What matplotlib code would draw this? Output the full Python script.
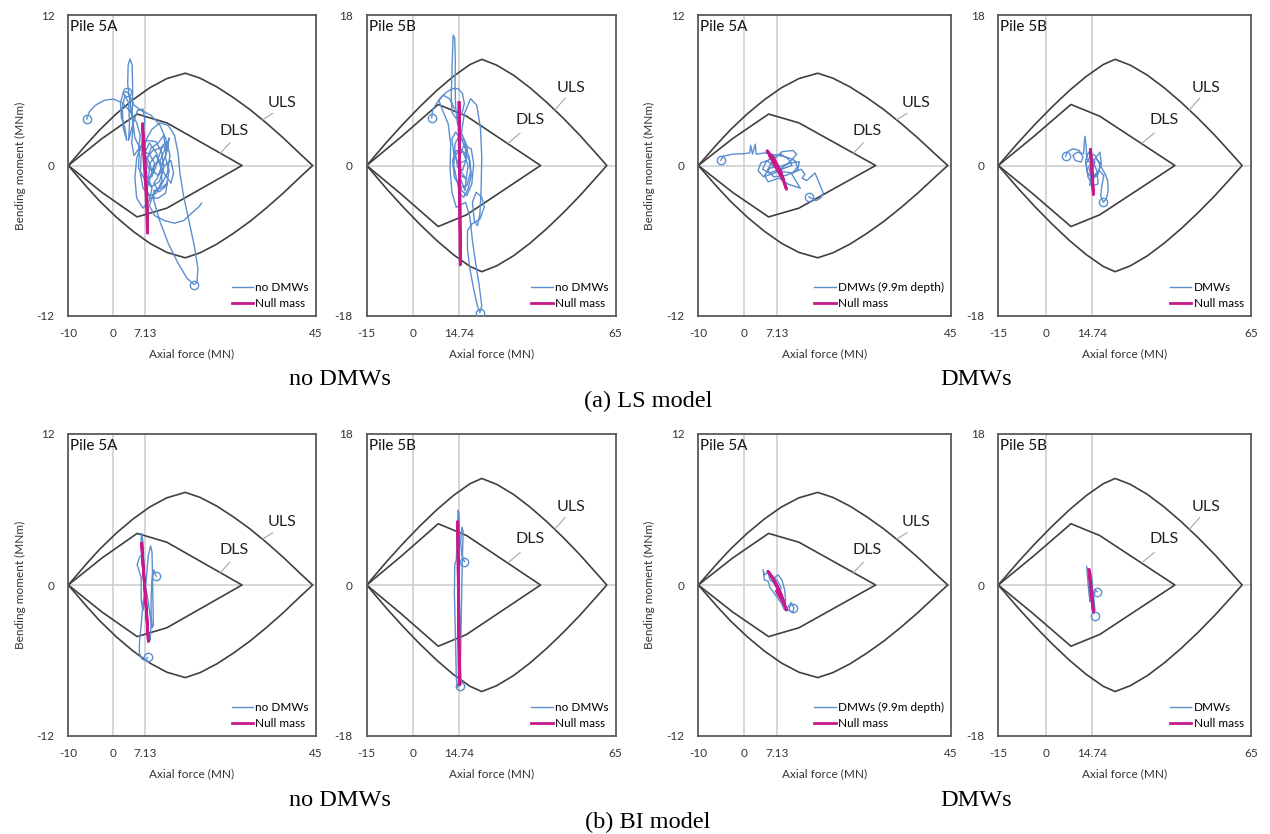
import numpy as np
import matplotlib
matplotlib.use("Agg")
import matplotlib.pyplot as plt

# ---- 包絡線 (上半分、下半分は対称) ----
uls_5a_x = [-10, -5.9, -3.0, 0.7, 4.4, 8.1, 11.9, 16.0, 19.3, 23.0, 26.7, 30.4, 34.1, 37.8, 41.5, 44.3]
uls_5a_y = [0, 1.71, 2.85, 4.13, 5.25, 6.2, 6.93, 7.36, 6.96, 6.27, 5.41, 4.45, 3.36, 2.19, 0.93, 0]
dls_5a_x = [-10, -2.5, 5.3, 11.9, 28.6]
dls_5a_y = [0, 2.15, 4.1, 3.4, 0]

uls_5b_x = [-15, -8.57, -3.2, 2.14, 7.5, 12.86, 18.2, 22.0, 26.8, 32.2, 37.5, 42.9, 48.2, 53.6, 58.9, 62.2]
uls_5b_y = [0, 2.8, 5.0, 7.05, 8.96, 10.66, 12.07, 12.7, 12.0, 10.8, 9.3, 7.55, 5.66, 3.59, 1.39, 0]
dls_5b_x = [-15, -4.0, 8.0, 17.1, 40.9]
dls_5b_y = [0, 3.4, 7.3, 5.9, 0]

# ---- (a) LS model, no DMWs, Pile 5A ----
ls_nd_5a_x = [-5.9, -5.3, -4, -2, 0, 2, 3.8, 5.2, 6.0, 5.6, 4.6, 4.1, 4.4, 3.8, 3.2, 3.3, 3.7, 4.2, 4.3, 4.2,
              4.8, 6.2, 8.0, 9.2, 8.6, 6.8, 5.6, 5.8, 7.5, 9.5, 10.8, 11.2, 10.2, 8.4, 7.0, 7.2, 8.8, 10.5,
              11.8, 11.6, 12.4, 11.8, 10.2, 9.0, 9.8, 11.0, 12.0, 12.4, 11.8, 11.0, 10.0, 9.0, 7.8, 7.0, 8.0,
              9.6, 10.6, 11.6, 12.8, 13.4, 12.8, 11.4, 10.0, 8.6, 7.6, 8.4, 10.0, 11.2, 11.6, 10.4, 9.0, 8.0,
              7.4, 8.4, 10.0, 11.6, 12.0, 10.6, 9.0,
              9.0, 10.4, 12.2, 14.4, 16.4, 18.0, 18.6, 18.8, 18.0, 16.8,
              15.6, 14.8, 14.4, 13.6, 12.2, 10.4, 8.6, 7.2, 6.2, 6.0, 6.6, 8.0, 9.6, 10.8, 10.6, 9.4, 8.2,
              7.8, 8.6, 8.0, 6.6, 5.2, 4.8, 5.2, 6.4, 7.0, 6.6, 5.4, 4.4, 3.4, 3.6, 3.4, 2.6, 2.0, 2.2, 3.0,
              2.6, 1.8, 1.6, 2.2, 3.0, 3.6, 4.6,
              6.2, 8.4, 10.4, 11.8, 12.6, 12.0, 10.6, 9.0, 8.0, 9.2, 11.4, 13.6, 15.6, 17.4, 19.0, 19.6]
ls_nd_5a_y = [3.7, 4.3, 4.8, 5.2, 5.3, 5.0, 4.3, 3.4, 2.4, 1.3, 0.8, 1.8, 3.2, 4.8, 6.5, 8.0, 8.5, 8.0, 6.0, 4.0,
              2.2, 1.2, 0.9, 0.2, -0.9, -1.0, -0.2, 1.2, 2.0, 1.9, 1.0, -0.2, -1.3, -1.7, -1.0, 0.5, 1.2, 1.4,
              1.9, 0.6, -0.4, -1.6, -2.1, -1.4, -1.0, 0.2, 1.2, 2.2, 1.2, 1.6, 0.6, -0.6, -0.2, 1.0, 1.8,
              1.0, -0.2, -0.8, -1.4, -0.6, 0.4, 0.0, -0.8, -0.4, 0.6, 1.4, 1.8, 2.4, 1.4, 0.4, 0.0, -1.2,
              -2.0, -2.6, -2.6, -2.2, -1.4, -1.8, -2.0,
              -2.8, -4.5, -6.2, -7.8, -9.0, -9.5, -9.3, -8.2, -6.4, -4.4,
              -2.4, -0.6, 1.0, 2.4, 3.2, 3.4, 2.9, 2.0, 0.8, -0.6, -1.8, -2.4, -2.2, -1.2, 0.2, 0.8, 0.2,
              -1.0, -1.8, -2.8, -3.4, -2.6, -1.0, 0.6, 1.8, 3.6, 4.5, 4.4, 3.4, 2.0, 3.4, 5.0, 5.6, 4.6, 3.0, 2.0,
              3.0, 3.8, 5.0, 5.8, 5.9, 5.6, 4.8,
              4.4, 4.0, 3.2, 2.0, 0.8, -0.6, -1.6, -2.2, -3.2, -4.0, -4.4, -4.6, -4.4, -3.8, -3.3, -3.0]
ls_nd_5a_mx = [-5.9, 3.0, 18.0]
ls_nd_5a_my = [3.7, 5.9, -9.5]
ls_null_5a_x = [6.5, 6.9, 7.3, 7.6, 7.6, 7.3, 6.9, 6.6, 6.5]
ls_null_5a_y = [3.3, 1.5, -1.0, -3.5, -5.4, -2.5, 0.0, 1.8, 3.3]

# ---- (a) LS model, no DMWs, Pile 5B ----
ls_nd_5b_x = [5.9, 6.2, 7.4, 9.0, 10.8, 12.6, 14.4, 15.8, 16.4, 15.6, 13.8, 12.4, 12.2, 12.4, 12.6, 12.8, 13.3,
              13.5, 13.4, 13.6, 14.2, 15.8, 17.4, 16.8, 14.6, 13.0, 12.4, 13.6, 15.6, 17.8, 18.4, 17.2, 15.0,
              13.2, 12.6, 13.8, 16.0, 17.6, 17.0, 15.4, 14.8, 16.2, 18.6, 19.4, 18.8, 17.2, 15.6,
              14.0, 13.0, 13.4, 14.8, 16.6, 17.0, 15.8, 14.2, 13.6, 15.0, 16.8, 18.2, 18.6, 17.6, 16.2, 14.8,
              14.2, 15.4, 17.0, 16.6,
              14.6, 15.0, 16.4, 18.4, 20.4, 21.6, 22.0, 21.8, 21.4, 20.6, 19.6, 19.0, 20.2, 22.0, 22.8, 21.4, 18.8,
              17.4, 17.4, 18.2, 19.4, 20.6, 21.4, 22.0, 21.2, 20.0, 19.0, 18.2, 16.8, 13.8, 12.4, 11.8, 12.0, 11.2,
              9.4, 8.2, 9.6, 11.6, 13.2]
ls_nd_5b_y = [5.7, 6.6, 7.4, 8.2, 8.8, 9.2, 9.2, 8.6, 7.4, 6.2, 5.6, 6.4, 8.4, 11.0, 13.6, 15.6, 15.2,
              12.4, 9.6, 7.0, 5.0, 3.6, 2.2, 0.6, 0.2, 1.4, 3.2, 4.0, 3.0, 1.2, -0.8, -2.4, -2.6,
              -1.4, 0.6, 1.8, 1.6, 0.0, -1.6, -0.8, 1.0, 2.4, 2.0, 0.2, -2.2, -3.6, -3.0,
              -1.8, 0.0, 2.6, 3.6, 2.8, 0.8, -0.6, -0.2, 1.2, 2.0, 1.4, 0.6, -1.2, -2.8, -3.8, -3.4,
              -2.0, -1.2, -1.6, -3.0,
              -1.0, 2.8, 6.2, 8.0, 7.2, 4.4, 1.0, -2.6, -5.8, -7.2, -6.6, -4.4, -3.2, -3.8, -5.0, -6.4, -7.0,
              -7.8, -10.0, -12.4, -14.8, -16.8, -17.6, -16.8, -14.4, -11.6, -9.0, -6.2, -4.4, -5.0, -3.2, -0.4, 2.6, 5.0,
              6.6, 7.8, 8.4, 8.0, 6.8]
ls_nd_5b_mx = [5.9, 21.4]
ls_nd_5b_my = [5.7, -17.6]
ls_null_5b_x = [14.7, 14.8, 15.0, 15.1, 15.0, 14.8, 14.7]
ls_null_5b_y = [7.5, 0.0, -8.0, -11.9, -4.0, 2.0, 7.5]

# ---- (a) LS model, DMWs, Pile 5A ----
ls_d_5a_x = [-5.1, -4.6, -2.5, 0.0, 1.2, 1.4, 1.8, 2.4, 2.6, 4.4, 6.6, 9.0, 11.0, 11.6, 10.6, 8.4, 6.4, 5.0,
             3.6, 3.0, 4.2, 6.6, 8.8, 10.4, 9.6, 8.0, 6.0, 4.6, 4.0, 5.4, 7.8, 10.0, 11.4, 10.6, 8.2, 6.2, 5.0,
             6.4, 9.0, 11.6, 12.0, 10.0, 7.6, 5.6, 4.4, 5.2, 7.6, 9.6, 12.2, 10.2, 12.4, 13.2, 12.6,
             13.6, 15.4, 16.2, 17.2, 16.6, 15.6, 14.1]
ls_d_5a_y = [0.42, 0.75, 0.9, 0.95, 1.0, 1.6, 0.9, 1.7, 0.9, 1.0, 0.85, 0.7, 0.4, -0.1, -0.6, -0.5, -0.1, 0.4,
             0.2, -0.4, -0.9, -0.6, -0.2, 0.0, 0.5, 0.9, 0.7, 0.2, -0.3, -0.6, -0.3, 0.3, 0.9, 1.2, 1.1, 0.4, -0.4,
             -0.9, -0.8, -0.4, 0.3, 0.2, -0.1, -0.2, -0.8, -1.3, -1.0, -1.5, -1.8, -0.6, -0.3, -0.7, -1.0,
             -1.2, -0.6, -1.3, -2.2, -2.6, -2.8, -2.5]
ls_d_5a_mx = [-5.1, 14.1]
ls_d_5a_my = [0.42, -2.5]
ls_dnull_5a_x = [5.0, 6.0, 7.4, 8.6, 9.2, 8.4, 7.0, 5.8, 5.0, 6.4, 8.0, 8.6, 6.8, 5.6]
ls_dnull_5a_y = [1.15, 0.6, -0.3, -1.3, -1.9, -1.0, 0.0, 0.7, 1.15, 0.6, -0.5, -1.2, -0.1, 0.7]

# ---- (a) LS model, DMWs, Pile 5B ----
ls_d_5b_x = [6.3, 6.8, 8.6, 10.6, 11.8, 11.2, 9.4, 8.6, 10.0, 12.0, 12.2, 12.4, 12.8, 13.0, 14.4, 16.0, 17.2,
             17.6, 16.4, 14.6, 13.2, 12.6, 13.6, 15.6, 17.6, 18.8, 19.6, 19.8, 19.2, 18.2, 17.4, 17.8, 18.4,
             17.0, 15.2, 14.0, 14.4, 15.6, 14.2, 12.8, 13.4, 15.0, 16.6, 16.2, 14.8, 13.6, 14.6, 16.4, 17.4, 16.0]
ls_d_5b_y = [1.1, 1.6, 2.0, 1.8, 1.0, 0.4, 0.6, 1.2, 1.6, 1.4, 2.6, 3.5, 2.4, 0.8, 0.2, 1.0, 1.6,
             0.2, -1.0, -1.6, -0.8, 0.6, 1.6, 1.2, -0.2, -1.0, -1.8, -3.0, -4.0, -4.4, -3.6, -2.4, -1.2,
             -0.6, -1.2, -2.4, -1.0, 0.4, 1.2, 0.2, -1.4, -2.4, -2.2, -0.6, 0.6, -0.2, -1.6, -1.2, 0.2, 0.8]
ls_d_5b_mx = [6.3, 18.2]
ls_d_5b_my = [1.1, -4.4]
ls_dnull_5b_x = [14.2, 14.5, 14.8, 15.1, 14.9, 14.5, 14.2]
ls_dnull_5b_y = [1.9, 0.0, -2.0, -3.5, -1.5, 0.4, 1.9]

# ---- (b) BI model, no DMWs, Pile 5A ----
bi_nd_5a_x = [9.5, 9.0, 8.6, 8.4, 8.4, 8.6, 8.9, 8.8, 8.7, 8.6, 8.3, 7.8, 7.4, 7.0, 6.6, 6.2, 6.2, 5.3, 5.8,
              6.3, 6.2, 6.3, 6.6, 6.8, 7.0, 7.3, 7.6, 8.2, 8.4, 7.8, 7.2, 6.6, 6.2, 5.8, 5.8, 6.4, 7.2, 7.6]
bi_nd_5a_y = [0.7, 1.2, 0.4, -1.0, -2.4, -3.4, -3.2, -1.2, 1.0, 2.6, 3.1, 2.4, 0.8, -0.8, -2.0, -1.2, 0.6, 1.6, 2.2,
              2.4, 3.8, 4.1, 3.4, 1.6, -0.4, -2.4, -3.8, -4.4, -3.0, -1.4, -0.2, -1.4, -3.2, -4.6, -5.4, -5.9, -6.0, -5.75]
bi_nd_5a_mx = [9.5, 7.6]
bi_nd_5a_my = [0.7, -5.75]
bi_null_5a_x = [6.3, 6.7, 7.1, 7.5, 7.8, 7.4, 7.0, 6.6, 6.3]
bi_null_5a_y = [3.3, 1.2, -0.8, -2.8, -4.5, -2.2, -0.2, 1.6, 3.3]

# ---- (b) BI model, no DMWs, Pile 5B ----
bi_nd_5b_x = [16.4, 15.6, 15.2, 15.6, 16.0, 15.8, 15.6, 15.4, 15.2, 14.8, 14.3, 13.8, 13.6, 13.2, 13.3, 13.8,
              14.0, 14.2, 14.4, 14.7, 14.8, 14.8, 15.0, 15.2, 15.4, 15.0]
bi_nd_5b_y = [2.8, 3.6, 5.2, 6.9, 6.4, 3.6, 0.0, -4.0, -8.0, -11.4, -12.2, -11.2, -7.0, -1.0, 2.4, 3.0,
              4.5, 7.0, 8.9, 8.4, 4.0, -1.0, -6.0, -10.0, -11.8, -12.0]
bi_nd_5b_mx = [16.4, 15.0]
bi_nd_5b_my = [2.8, -12.0]
bi_null_5b_x = [14.3, 14.5, 14.7, 14.8, 14.6, 14.4, 14.3]
bi_null_5b_y = [7.5, 0.0, -7.0, -11.9, -5.0, 2.0, 7.5]

# ---- (b) BI model, DMWs, Pile 5A ----
bi_d_5a_x = [4.1, 4.4, 5.2, 5.6, 6.4, 7.2, 7.8, 8.0, 7.4, 6.6, 7.4, 8.2, 8.8, 9.0, 8.6, 9.4, 10.2, 10.8, 10.6,
             9.8, 8.8, 8.0, 7.2, 6.4, 5.6, 5.2, 4.4, 4.2]
bi_d_5a_y = [1.2, 0.8, 1.0, 0.4, 0.2, -0.2, -0.6, -0.2, 0.2, 0.6, 0.8, 0.4, -0.4, -1.2, -1.8, -1.8, -1.4, -1.8, -2.2,
             -2.0, -2.0, -1.4, -1.0, -0.6, -0.2, 0.3, 0.4, 1.0]
bi_d_5a_mx = [10.6]
bi_d_5a_my = [-1.85]
bi_dnull_5a_x = [5.2, 6.2, 7.4, 8.6, 9.2, 8.4, 7.2, 6.0, 5.2, 6.6, 8.0, 8.8, 7.0]
bi_dnull_5a_y = [1.06, 0.5, -0.4, -1.4, -2.0, -1.1, -0.1, 0.7, 1.06, 0.3, -0.7, -1.6, -0.5]

# ---- (b) BI model, DMWs, Pile 5B ----
bi_d_5b_x = [13.0, 13.2, 13.6, 14.0, 14.6, 14.8, 14.4, 14.0, 14.2, 15.0, 15.4, 15.6, 15.2, 15.8, 16.3]
bi_d_5b_y = [2.2, 1.2, -0.6, -2.0, -1.6, 0.2, 1.4, 0.4, -1.2, -2.6, -3.4, -3.0, -1.4, -0.6, -0.8]
bi_d_5b_mx = [16.3, 15.6]
bi_d_5b_my = [-0.8, -3.7]
bi_dnull_5b_x = [13.7, 14.1, 14.6, 15.1, 14.8, 14.3, 13.7]
bi_dnull_5b_y = [1.8, 0.0, -1.8, -3.2, -1.6, 0.2, 1.8]

# 軸・ラベル
x_ticks_5a = [-10, 0, 7.13, 45]
x_ticks_5b = [-15, 0, 14.74, 65]
y_ticks_5a = [-12, 0, 12]
y_ticks_5b = [-18, 0, 18]

W, H = 1270, 834
FONT = ["Lato", "DejaVu Sans"]
BLUE = "#5b8fcf"
MAGENTA = "#c8198c"
CURVE = "#404040"
GRID = "#cfcfcf"

plt.rcParams["font.family"] = FONT

fig = plt.figure(figsize=(W / 100, H / 100), dpi=100)


def add_ax(x0, y0, x1, y1):
    return fig.add_axes([x0 / W, 1 - y1 / H, (x1 - x0) / W, (y1 - y0) / H])


def draw_panel(ax, pile, tr, null, marks, label, ylabel):
    if pile == "5A":
        ux, uy, dx, dy = uls_5a_x, uls_5a_y, dls_5a_x, dls_5a_y
        xt, yt, ref = x_ticks_5a, y_ticks_5a, 7.13
        uls_txt, uls_ld = (37.4, 5.0), [(35.4, 33.2), (4.15, 3.65)]
        dls_txt, dls_ld = (26.8, 2.75), [(25.9, 23.7), (1.8, 0.96)]
    else:
        ux, uy, dx, dy = uls_5b_x, uls_5b_y, dls_5b_x, dls_5b_y
        xt, yt, ref = x_ticks_5b, y_ticks_5b, 14.74
        uls_txt, uls_ld = (50.6, 9.3), [(48.8, 45.5), (8.05, 6.65)]
        dls_txt, dls_ld = (37.5, 5.5), [(34.3, 30.5), (3.86, 2.67)]

    ax.set_xlim(xt[0], xt[-1])
    ax.set_ylim(yt[0], yt[-1])
    for v in (0, ref):
        ax.axvline(v, color=GRID, lw=1.2, zorder=0)
    ax.axhline(0, color=GRID, lw=1.2, zorder=0)

    for xs, ys in ((ux, uy), (dx, dy)):
        xs, ys = np.asarray(xs, float), np.asarray(ys, float)
        ax.plot(np.r_[xs, xs[::-1]], np.r_[ys, -ys[::-1]], color=CURVE, lw=1.2, zorder=2)

    ax.plot(uls_ld[0], uls_ld[1], color="#a6a6a6", lw=0.8, zorder=2)
    ax.plot(dls_ld[0], dls_ld[1], color="#a6a6a6", lw=0.8, zorder=2)
    ax.text(*uls_txt, "ULS", fontsize=11.5, ha="center", va="center", color="#222222")
    ax.text(*dls_txt, "DLS", fontsize=11.5, ha="center", va="center", color="#222222")

    ax.plot(tr[0], tr[1], color=BLUE, lw=1.0, zorder=3, label=label)
    ax.plot(marks[0], marks[1], ls="none", marker="o", ms=6, mfc="none", mec=BLUE, mew=1.0, zorder=3)
    ax.plot(null[0], null[1], color=MAGENTA, lw=2.0, zorder=4, label="Null mass")

    ax.text(0.008, 0.985, "Pile " + pile, transform=ax.transAxes, fontsize=11, ha="left", va="top",
            color="#111111")

    ax.set_xticks(xt)
    ax.set_xticklabels([f"{v:g}" for v in xt])
    ax.set_yticks(yt)
    ax.set_yticklabels([f"{v:g}" for v in yt])
    ax.tick_params(axis="both", length=0, labelsize=8.5, colors="#333333")
    ax.tick_params(axis="x", pad=8.5)
    ax.tick_params(axis="y", pad=10)
    for s in ax.spines.values():
        s.set_color("#595959")
        s.set_linewidth(1.3)

    ax.set_xlabel("Axial force (MN)", fontsize=8.5, color="#333333")
    ax.xaxis.set_label_coords(0.5, -0.107)
    if ylabel:
        ax.set_ylabel("Bending moment (MNm)", fontsize=8.5, color="#333333")
        ax.yaxis.set_label_coords(-0.17, 0.5)

    ax.legend(loc="lower right", frameon=False, fontsize=8.5, handlelength=1.8, handletextpad=0.2,
              labelspacing=0.4, borderaxespad=0.2)


cols = [(68.3, 315.8), (366.7, 615.5), (698.3, 951.0), (998.3, 1251.0)]
rows = [(15, 316), (434, 736)]

panels = [
    (0, 0, "5A", (ls_nd_5a_x, ls_nd_5a_y), (ls_null_5a_x, ls_null_5a_y), (ls_nd_5a_mx, ls_nd_5a_my), "no DMWs", True),
    (0, 1, "5B", (ls_nd_5b_x, ls_nd_5b_y), (ls_null_5b_x, ls_null_5b_y), (ls_nd_5b_mx, ls_nd_5b_my), "no DMWs", False),
    (0, 2, "5A", (ls_d_5a_x, ls_d_5a_y), (ls_dnull_5a_x, ls_dnull_5a_y), (ls_d_5a_mx, ls_d_5a_my), "DMWs (9.9m depth)", True),
    (0, 3, "5B", (ls_d_5b_x, ls_d_5b_y), (ls_dnull_5b_x, ls_dnull_5b_y), (ls_d_5b_mx, ls_d_5b_my), "DMWs", False),
    (1, 0, "5A", (bi_nd_5a_x, bi_nd_5a_y), (bi_null_5a_x, bi_null_5a_y), (bi_nd_5a_mx, bi_nd_5a_my), "no DMWs", True),
    (1, 1, "5B", (bi_nd_5b_x, bi_nd_5b_y), (bi_null_5b_x, bi_null_5b_y), (bi_nd_5b_mx, bi_nd_5b_my), "no DMWs", False),
    (1, 2, "5A", (bi_d_5a_x, bi_d_5a_y), (bi_dnull_5a_x, bi_dnull_5a_y), (bi_d_5a_mx, bi_d_5a_my), "DMWs (9.9m depth)", True),
    (1, 3, "5B", (bi_d_5b_x, bi_d_5b_y), (bi_dnull_5b_x, bi_dnull_5b_y), (bi_d_5b_mx, bi_d_5b_my), "DMWs", False),
]

for r, c, pile, tr, null, marks, label, ylab in panels:
    (x0, x1), (y0, y1) = cols[c], rows[r]
    ax = add_ax(x0, y0, x1, y1)
    draw_panel(ax, pile, tr, null, marks, label, ylab)

# キャプション
serif = ["Liberation Serif", "DejaVu Serif"]
for yc, sub in ((379, "(a) LS model"), (800, "(b) BI model")):
    fig.text(340 / W, 1 - yc / H, "no DMWs", family=serif, fontsize=17.5, ha="center", va="center")
    fig.text(976 / W, 1 - yc / H, "DMWs", family=serif, fontsize=17.5, ha="center", va="center")
    fig.text(648 / W, 1 - (yc + 22) / H, sub, family=serif, fontsize=17.5, ha="center", va="center")

fig.savefig("out.png", dpi=100)
